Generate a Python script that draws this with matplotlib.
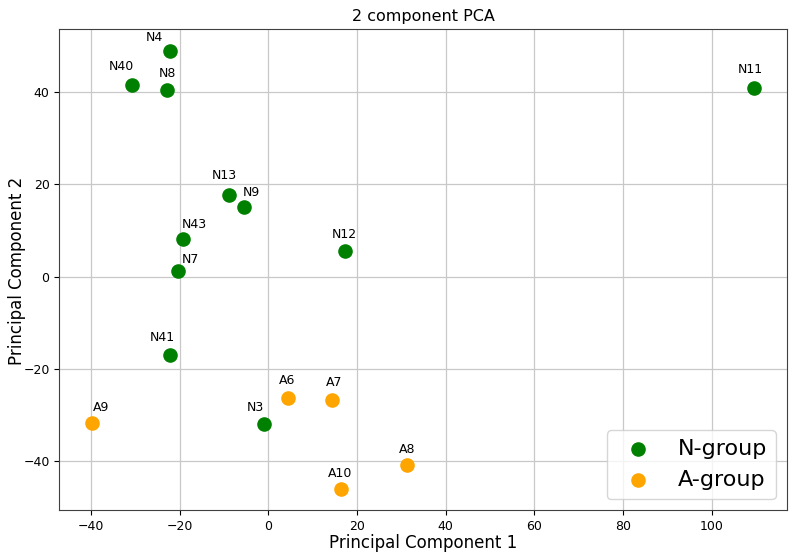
import matplotlib.pyplot as plt

# N-group samples
n_names = ['N4', 'N40', 'N8', 'N13', 'N9', 'N43', 'N7', 'N12', 'N11', 'N41', 'N3']
n_pc1 = [-22.2, -30.9, -22.9, -8.9, -5.6, -19.3, -20.4, 17.2, 109.5, -22.3, -1.1]
n_pc2 = [48.9, 41.5, 40.4, 17.7, 15.1, 8.2, 1.1, 5.6, 40.9, -17.0, -31.9]

# A-group samples
a_names = ['A9', 'A6', 'A7', 'A10', 'A8']
a_pc1 = [-39.9, 4.35, 14.35, 16.4, 31.3]
a_pc2 = [-31.6, -26.3, -26.8, -46.0, -40.9]

# label offsets (pixels, relative to the point)
n_off = [(-16, 13), (-10, 18), (0, 16), (-5, 19), (8, 14), (11, 14), (12, 12),
         (0, 16), (-3, 18), (-7, 18), (-8, 16)]
a_off = [(9, 15), (-1, 18), (2, 18), (-1, 16), (0, 16)]

fig = plt.figure(figsize=(7.95, 5.54), dpi=100)
ax = fig.add_axes([0.0746, 0.0789, 0.9154, 0.8688])

ax.scatter(n_pc1, n_pc2, c='green', s=90, label='N-group', zorder=3)
ax.scatter(a_pc1, a_pc2, c='orange', s=90, label='A-group', zorder=3)

for name, x, y, off in zip(n_names + a_names, n_pc1 + a_pc1, n_pc2 + a_pc2, n_off + a_off):
    ax.annotate(name, (x, y), xytext=off, textcoords='offset pixels',
                ha='center', va='center', fontsize=9)

ax.set_xlim(-47.2, 117.0)
ax.set_ylim(-50.6, 53.6)
ax.set_xticks([-40, -20, 0, 20, 40, 60, 80, 100])
ax.set_yticks([-40, -20, 0, 20, 40])
ax.tick_params(labelsize=9)
ax.grid(True, color='#c8c8c8', linewidth=0.9)
ax.set_axisbelow(True)
for sp in ax.spines.values():
    sp.set_color('#404040')

ax.set_xlabel('Principal Component 1', fontsize=12, va='center')
ax.set_ylabel('Principal Component 2', fontsize=12, va='center')
ax.xaxis.set_label_coords(0.4997, -0.067)
ax.yaxis.set_label_coords(-0.0588, 0.497)
ax.set_title('2 component PCA', fontsize=11.5)
ax.legend(loc='lower right', fontsize=16, markerscale=1.0)

fig.savefig('out.png', dpi=100)
